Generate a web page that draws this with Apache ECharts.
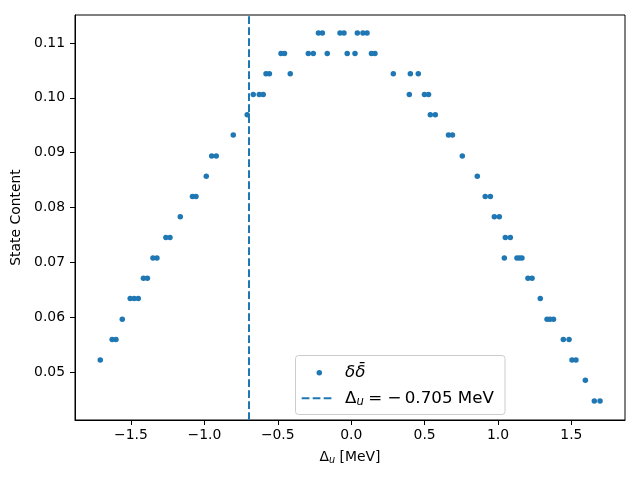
<!DOCTYPE html>
<html>
<head>
<meta charset="utf-8">
<script src="https://cdn.jsdelivr.net/npm/echarts@6/dist/echarts.min.js"></script>
<style>
  html, body { margin: 0; padding: 0; background: #fff; }
  #main { width: 640px; height: 480px; }
</style>
</head>
<body>
<div id="main"></div>
<script>
// points: Delta_u [MeV] and state content
var deltaU = [
  -1.709, -1.628, -1.602, -1.559, -1.505, -1.478, -1.450, -1.415, -1.388, -1.350,
  -1.323, -1.262, -1.234, -1.164, -1.081, -1.057, -0.987, -0.950, -0.919, -0.803,
  -0.708, -0.667, -0.626, -0.599, -0.580, -0.557, -0.478, -0.454, -0.415, -0.292,
  -0.258, -0.223, -0.196, -0.163, -0.076, -0.049, -0.027, 0.026, 0.042, 0.080,
  0.108, 0.138, 0.162, 0.287, 0.396, 0.403, 0.457, 0.499, 0.527, 0.539,
  0.573, 0.663, 0.690, 0.757, 0.859, 0.913, 0.948, 0.975, 1.009, 1.043,
  1.050, 1.084, 1.129, 1.146, 1.163, 1.204, 1.232, 1.288, 1.334, 1.354,
  1.378, 1.445, 1.484, 1.504, 1.531, 1.595, 1.656, 1.695
];
var content = [
  0.0522, 0.0559, 0.0559, 0.0596, 0.0634, 0.0634, 0.0634, 0.0671, 0.0671, 0.0708,
  0.0708, 0.0745, 0.0745, 0.0783, 0.0820, 0.0820, 0.0857, 0.0894, 0.0894, 0.0932,
  0.0969, 0.1006, 0.1006, 0.1006, 0.1044, 0.1044, 0.1081, 0.1081, 0.1044, 0.1081,
  0.1081, 0.1118, 0.1118, 0.1081, 0.1118, 0.1118, 0.1081, 0.1081, 0.1118, 0.1118,
  0.1118, 0.1081, 0.1081, 0.1044, 0.1006, 0.1044, 0.1044, 0.1006, 0.1006, 0.0969,
  0.0969, 0.0932, 0.0932, 0.0894, 0.0857, 0.0820, 0.0820, 0.0783, 0.0783, 0.0708,
  0.0745, 0.0745, 0.0708, 0.0708, 0.0708, 0.0671, 0.0671, 0.0634, 0.0596, 0.0596,
  0.0596, 0.0559, 0.0559, 0.0522, 0.0522, 0.0485, 0.0447, 0.0447
];
var cutDelta = -0.705;
var xTicks = [-1.5, -1.0, -0.5, 0.0, 0.5, 1.0, 1.5];
var yTicks = [0.05, 0.06, 0.07, 0.08, 0.09, 0.10, 0.11];

var blue = '#1f77b4';
var font = 'DejaVu Sans';

var points = [];
deltaU.forEach(function (d, i) {
  points.push([d, content[i]]);
});

var myChart = echarts.init(document.getElementById('main'));

var option = {
  animation: false,
  backgroundColor: '#fff',
  grid: {
    left: 75, right: 15, top: 15, bottom: 60,
    show: true, borderColor: '#000', borderWidth: 1, backgroundColor: 'transparent'
  },
  xAxis: {
    type: 'value',
    min: -1.881,
    max: 1.865,
    splitLine: { show: false },
    axisLine: { onZero: false, lineStyle: { color: '#000', width: 1 } },
    axisTick: { length: 5, lineStyle: { color: '#000' }, customValues: xTicks },
    axisLabel: {
      customValues: xTicks,
      color: '#000', fontFamily: font, fontSize: 13.9, margin: 8,
      formatter: function (v) { return (v < 0 ? '\u2212' : '') + Math.abs(v).toFixed(1); }
    },
    name: '{d|\u0394}{s|u}{d| [MeV]}',
    nameLocation: 'middle',
    nameGap: 29,
    nameTextStyle: {
      color: '#000', fontFamily: font, fontSize: 13.9,
      rich: {
        d: { fontFamily: font, fontSize: 13.9, color: '#000' },
        s: { fontFamily: font, fontSize: 9.7, fontStyle: 'italic', color: '#000', padding: [6, 0, 0, 0] }
      }
    }
  },
  yAxis: {
    type: 'value',
    min: 0.04124,
    max: 0.1151,
    splitLine: { show: false },
    axisLine: { show: true, onZero: false, lineStyle: { color: '#000', width: 1 } },
    axisTick: { show: true, length: 5, lineStyle: { color: '#000' }, customValues: yTicks },
    axisLabel: {
      customValues: yTicks,
      color: '#000', fontFamily: font, fontSize: 13.9, margin: 10,
      formatter: function (v) { return v.toFixed(2); }
    },
    name: 'State Content',
    nameLocation: 'middle',
    nameGap: 42,
    nameTextStyle: { color: '#000', fontFamily: font, fontSize: 13.9 }
  },
  series: [{
    type: 'scatter',
    data: points,
    symbolSize: 5.5,
    itemStyle: { color: blue, opacity: 1 },
    silent: true,
    markLine: {
      silent: true,
      symbol: ['none', 'none'],
      label: { show: false },
      lineStyle: { color: blue, width: 2, type: [7.7, 3.3], opacity: 1 },
      data: [{ xAxis: cutDelta }]
    }
  }],
  graphic: [
    {
      type: 'rect', z: 100,
      shape: { x: 295.5, y: 355.5, width: 209.5, height: 59, r: 3 },
      style: { fill: 'rgba(255,255,255,0.8)', stroke: '#cccccc', lineWidth: 1 }
    },
    {
      type: 'circle', z: 101,
      shape: { cx: 319.3, cy: 372.7, r: 2.75 },
      style: { fill: blue }
    },
    {
      type: 'line', z: 101,
      shape: { x1: 301.7, y1: 398.3, x2: 331.7, y2: 398.3 },
      style: { stroke: blue, lineWidth: 2, lineDash: [7.7, 3.3] }
    },
    {
      type: 'text', z: 101,
      style: {
        x: 345, y: 372.7, verticalAlign: 'middle',
        text: '{i|\u03b4\u03b4\u0304}',
        rich: { i: { fontFamily: font, fontSize: 16.7, fontStyle: 'italic', fill: '#000' } }
      }
    },
    {
      type: 'text', z: 101,
      style: {
        x: 345, y: 398.3, verticalAlign: 'middle',
        text: '{d|\u0394}{s|u}{d|\u2009= \u2212\u20090.705 MeV}',
        rich: {
          d: { fontFamily: font, fontSize: 16.7, fill: '#000' },
          s: { fontFamily: font, fontSize: 11.7, fontStyle: 'italic', fill: '#000', padding: [8, 1, 0, 0] }
        }
      }
    }
  ]
};

myChart.setOption(option);
</script>
</body>
</html>
